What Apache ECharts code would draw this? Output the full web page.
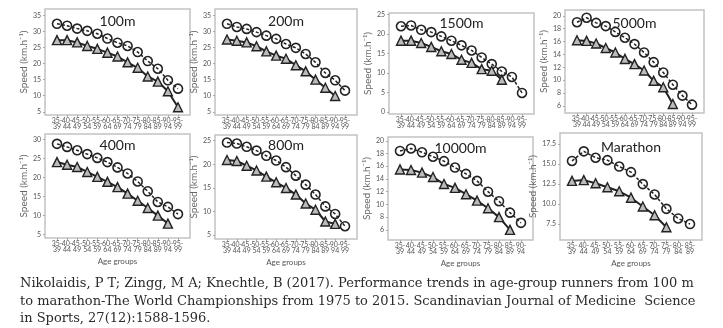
<!DOCTYPE html>
<html>
<head>
<meta charset="utf-8">
<script src="https://cdn.jsdelivr.net/npm/echarts@6/dist/echarts.min.js"></script>
<style>
html,body{margin:0;padding:0;background:#fff;}
#chart{width:723px;height:328px;}
</style>
</head>
<body>
<div id="chart"></div>
<script>
// ---------------- DATA ----------------
const ageGroups = ['35-39','40-44','45-49','50-54','55-59','60-64','65-69','70-74','75-79','80-84','85-89','90-94','95-99'];
const panelTitles = ['100m','200m','1500m','5000m','400m','800m','10000m','Marathon'];
const yAxisName = 'Speed (km.h\u207B\u00B9)';
const xAxisName = 'Age groups';

// circles (dashed line) and triangles (solid line), speed in km/h
const speed100mCircles   = [32.4, 31.8, 30.9, 30.2, 29.3, 27.8, 26.5, 25.5, 23.6, 20.8, 18.4, 14.8, 12.2];
const speed100mTriangles = [27.3, 27.3, 26.6, 25.5, 24.6, 23.4, 22.2, 20.4, 18.7, 16.0, 14.4, 11.4, 6.4];
const speed200mCircles   = [32.4, 31.4, 30.8, 29.8, 28.7, 27.7, 26.1, 24.9, 23.0, 20.4, 17.1, 14.8, 11.6];
const speed200mTriangles = [27.5, 27.1, 26.6, 25.4, 23.8, 22.5, 21.5, 19.5, 17.6, 15.0, 12.5, 9.9];
const speed1500mCircles   = [22.0, 22.2, 21.1, 20.5, 19.4, 18.3, 17.1, 15.8, 14.0, 12.3, 10.4, 9.0, 4.9];
const speed1500mTriangles = [18.3, 18.3, 17.7, 16.7, 15.6, 14.9, 13.4, 12.6, 11.0, 10.6, 8.3];
const speed5000mCircles   = [19.0, 19.7, 18.9, 18.4, 17.5, 16.6, 15.6, 14.3, 12.8, 11.2, 9.3, 7.6, 6.2];
const speed5000mTriangles = [16.2, 16.1, 15.7, 15.0, 14.3, 13.3, 12.5, 11.5, 9.9, 8.9, 6.3];
const speed400mCircles   = [28.9, 28.1, 27.2, 26.2, 25.2, 24.1, 22.7, 21.1, 19.0, 16.4, 13.6, 12.3, 10.4];
const speed400mTriangles = [24.1, 23.4, 22.8, 21.5, 20.2, 18.9, 17.5, 15.8, 13.9, 12.0, 10.0, 7.9];
const speed800mCircles   = [24.6, 24.4, 23.7, 22.9, 21.8, 20.8, 19.4, 17.6, 15.7, 13.6, 11.1, 9.5, 6.9];
const speed800mTriangles = [20.9, 20.7, 19.7, 18.7, 17.4, 16.2, 15.0, 13.6, 11.7, 10.4, 7.9, 7.4];
const speed10000mCircles   = [18.4, 18.8, 18.2, 17.5, 16.8, 15.8, 14.8, 13.7, 12.0, 10.5, 8.7, 7.1];
const speed10000mTriangles = [15.5, 15.4, 15.0, 14.3, 13.2, 12.6, 11.6, 10.6, 9.4, 8.0, 6.0];
const speedMarathonCircles   = [15.4, 16.6, 15.8, 15.5, 14.7, 14.0, 12.5, 11.2, 9.4, 8.2, 7.5];
const speedMarathonTriangles = [12.9, 13.0, 12.6, 12.1, 11.6, 10.8, 9.7, 8.6, 7.1];

// y tick labels
const ticks100m = [5, 10, 15, 20, 25, 30, 35];
const ticks200m = [5, 10, 15, 20, 25, 30, 35];
const ticks1500m = [0, 5, 10, 15, 20, 25];
const ticks5000m = [6, 8, 10, 12, 14, 16, 18, 20];
const ticks400m = [5, 10, 15, 20, 25, 30];
const ticks800m = [5, 10, 15, 20, 25];
const ticks10000m = [6, 8, 10, 12, 14, 16, 18, 20];
const ticksMarathon = [7.5, 10, 12.5, 15, 17.5];

const captionLines = [
  'Nikolaidis, P T; Zingg, M A; Knechtle, B (2017). Performance trends in age-group runners from 100 m',
  'to marathon-The World Championships from 1975 to 2015. Scandinavian Journal of Medicine  Science',
  'in Sports, 27(12):1588-1596.'
];

// ---------------- LAYOUT ----------------
const panels = [
  {title: panelTitles[0], nCat: 13, c: speed100mCircles, t: speed100mTriangles, ticks: ticks100m, yMin: 4, yMax: 37, box: [45, 9, 190, 115], ty: 21, dec: 0, bottom: false},
  {title: panelTitles[1], nCat: 13, c: speed200mCircles, t: speed200mTriangles, ticks: ticks200m, yMin: 4, yMax: 37, box: [215, 9, 357, 115], ty: 21, dec: 0, bottom: false},
  {title: panelTitles[2], nCat: 13, c: speed1500mCircles, t: speed1500mTriangles, ticks: ticks1500m, yMin: -0.5, yMax: 25.4, box: [389, 13, 534, 114], ty: 23, dec: 0, bottom: false},
  {title: panelTitles[3], nCat: 13, c: speed5000mCircles, t: speed5000mTriangles, ticks: ticks5000m, yMin: 4.9, yMax: 20.9, box: [565, 10, 704, 113], ty: 23, dec: 0, bottom: false},
  {title: panelTitles[4], nCat: 13, c: speed400mCircles, t: speed400mTriangles, ticks: ticks400m, yMin: 4.1, yMax: 31.5, box: [45, 134, 190, 238], ty: 145, dec: 0, bottom: true},
  {title: panelTitles[5], nCat: 13, c: speed800mCircles, t: speed800mTriangles, ticks: ticks800m, yMin: 4.2, yMax: 26.2, box: [215, 135, 357, 239], ty: 145, dec: 0, bottom: true},
  {title: panelTitles[6], nCat: 12, c: speed10000mCircles, t: speed10000mTriangles, ticks: ticks10000m, yMin: 4.4, yMax: 20.6, box: [388, 137, 533, 240], ty: 148, dec: 0, bottom: true},
  {title: panelTitles[7], nCat: 11, c: speedMarathonCircles, t: speedMarathonTriangles, ticks: ticksMarathon, yMin: 5.5, yMax: 18.9, box: [560, 133, 702, 240], ty: 147, dec: 1, bottom: true}
];

const PAD_PX = 12;
const grids = [], xAxes = [], yAxes = [], series = [], graphics = [];
const gray = '#555';

function makeXAxis(i, p, pad, values, withName) {
  return {
    gridIndex: i, type: 'value', min: -pad, max: p.nCat - 1 + pad, position: 'bottom', offset: 0,
    axisLine: {show: false, onZero: false}, splitLine: {show: false}, minorTick: {show: false}, minorSplitLine: {show: false},
    axisTick: {show: true, inside: false, customValues: values, length: 2, lineStyle: {color: '#aaa'}},
    axisLabel: {customValues: values, formatter: v => (ageGroups[Math.round(v)] || '').replace('-', '-\n'),
      hideOverlap: false, showMinLabel: true, showMaxLabel: true,
      fontSize: 7, lineHeight: 6, color: gray, margin: 3, fontFamily: 'Lato'},
    name: withName ? xAxisName : '', nameLocation: 'middle', nameGap: 19,
    nameTextStyle: {fontSize: 8, color: gray, fontFamily: 'Lato'}
  };
}

panels.forEach((p, i) => {
  const [l, t, r, b] = p.box;
  const w = r - l, h = b - t;
  const pad = PAD_PX * (p.nCat - 1) / (w - 2 * PAD_PX);
  const idx = ageGroups.slice(0, p.nCat).map((_, k) => k);
  const evenIdx = idx.filter(k => k % 2 === 0);
  const oddIdx = idx.filter(k => k % 2 === 1);
  grids.push({left: l, top: t, width: w, height: h, show: true, borderColor: '#c2c2c2', borderWidth: 1.5,
    backgroundColor: '#fff', containLabel: false, outerBoundsMode: 'none'});
  const xMain = xAxes.length;
  xAxes.push(makeXAxis(i, p, pad, evenIdx, p.bottom));
  xAxes.push(makeXAxis(i, p, pad, oddIdx, false));
  yAxes.push({
    gridIndex: i, type: 'value', min: p.yMin, max: p.yMax,
    axisLine: {show: false, onZero: false}, splitLine: {show: false}, minorTick: {show: false}, minorSplitLine: {show: false},
    axisTick: {show: true, inside: false, customValues: p.ticks, length: 2, lineStyle: {color: '#aaa'}},
    axisLabel: {customValues: p.ticks, formatter: v => Number(v).toFixed(p.dec),
      hideOverlap: false, showMinLabel: true, showMaxLabel: true,
      fontSize: 7, color: gray, margin: 4, fontFamily: 'Lato'},
    name: yAxisName, nameLocation: 'middle', nameGap: 9, nameRotate: 90,
    nameTextStyle: {fontSize: 10, color: '#666', fontFamily: 'Lato'}
  });
  series.push({
    type: 'line', xAxisIndex: xMain, yAxisIndex: i,
    data: p.c.map((v, k) => [k, v]),
    symbol: 'circle', symbolSize: 9,
    lineStyle: {color: '#222', width: 1.5, type: [3, 2]},
    itemStyle: {color: 'rgba(255,255,255,0)', borderColor: '#222', borderWidth: 1.6},
    z: 3
  });
  series.push({
    type: 'line', xAxisIndex: xMain, yAxisIndex: i,
    data: p.t.map((v, k) => [k, v]),
    symbol: 'triangle', symbolSize: 9,
    lineStyle: {color: '#222', width: 2},
    itemStyle: {color: '#bbb', borderColor: '#222', borderWidth: 1.4},
    z: 4
  });
  graphics.push({
    type: 'text', x: (l + r) / 2, y: p.ty, z: 10,
    style: {text: p.title, fontSize: 14, fontFamily: 'Lato', fill: '#222', align: 'center', verticalAlign: 'middle'}
  });
});

captionLines.forEach((line, k) => {
  graphics.push({
    type: 'text', x: 20, y: 284 + k * 17.5, z: 10,
    style: {text: line, fontSize: 13, fontFamily: 'DejaVu Serif', fill: '#2b2b2b', align: 'left', verticalAlign: 'middle'}
  });
});

const chart = echarts.init(document.getElementById('chart'), null, {renderer: 'canvas'});
chart.setOption({
  animation: false,
  backgroundColor: '#fff',
  grid: grids,
  xAxis: xAxes,
  yAxis: yAxes,
  series: series,
  graphic: graphics
});
</script>
</body>
</html>
